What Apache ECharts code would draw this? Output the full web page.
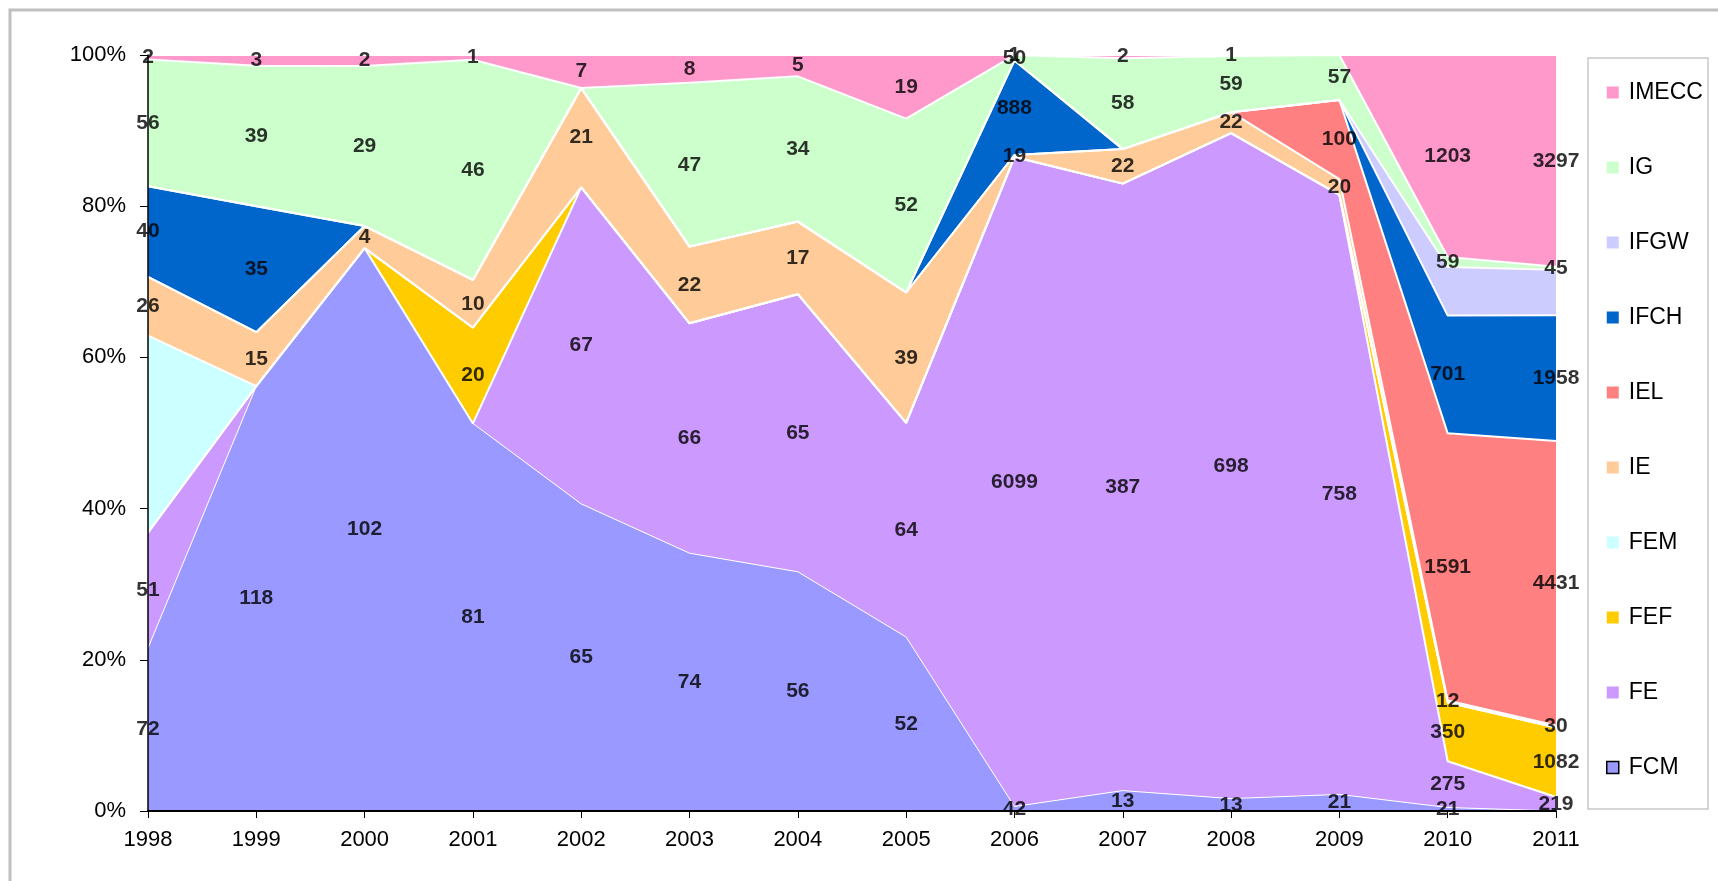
<!DOCTYPE html>
<html>
<head>
<meta charset="utf-8">
<script src="https://cdn.jsdelivr.net/npm/echarts@6/dist/echarts.min.js"></script>
<style>
  html, body { margin: 0; padding: 0; background: #fff; }
  #chart { width: 1718px; height: 881px; }
</style>
</head>
<body>
<div id="chart"></div>
<script>
// raw counts per year (blank cells in the sheet are 0 here)
const years = ['1998', '1999', '2000', '2001', '2002', '2003', '2004', '2005', '2006', '2007', '2008', '2009', '2010', '2011'];
const FCM = [72, 118, 102, 81, 65, 74, 56, 52, 42, 13, 13, 21, 21, 0];
const FE = [51, 0, 0, 0, 67, 66, 65, 64, 6099, 387, 698, 758, 275, 219];
const FEF = [0, 0, 0, 20, 0, 0, 0, 0, 0, 0, 0, 0, 350, 1082];
const FEM = [87, 0, 0, 0, 0, 0, 0, 0, 0, 0, 0, 0, 0, 0];
const IE = [26, 15, 4, 10, 21, 22, 17, 39, 19, 22, 22, 20, 12, 30];
const IEL = [0, 0, 0, 0, 0, 0, 0, 0, 0, 0, 0, 100, 1591, 4431];
const IFCH = [40, 35, 0, 0, 0, 0, 0, 0, 888, 0, 0, 0, 701, 1958];
const IFGW = [0, 0, 0, 0, 0, 0, 0, 0, 0, 0, 0, 0, 290, 708];
const IG = [56, 39, 29, 46, 0, 47, 34, 52, 50, 58, 59, 57, 59, 45];
const IMECC = [2, 3, 2, 1, 7, 8, 5, 19, 1, 2, 1, 0, 1203, 3297];

const yTicks = [0, 20, 40, 60, 80, 100];

// bottom to top
const stackOrder = [
    { name: 'FCM', data: FCM, color: '#9999FF', labels: true },
    { name: 'FE', data: FE, color: '#CC99FF', labels: true },
    { name: 'FEF', data: FEF, color: '#FFCC00', labels: true },
    { name: 'FEM', data: FEM, color: '#CCFFFF', labels: false },
    { name: 'IE', data: IE, color: '#FFCC99', labels: true },
    { name: 'IEL', data: IEL, color: '#FF8080', labels: true },
    { name: 'IFCH', data: IFCH, color: '#0066CC', labels: true },
    { name: 'IFGW', data: IFGW, color: '#CCCCFF', labels: false },
    { name: 'IG', data: IG, color: '#CCFFCC', labels: true },
    { name: 'IMECC', data: IMECC, color: '#FF99CC', labels: true }
];

const FONT = '"Liberation Sans", Arial, sans-serif';

const totals = years.map((y, i) => stackOrder.reduce((s, d) => s + d.data[i], 0));

let series = [];
let below = years.map(() => 0);

stackOrder.forEach(s => {
    let pct = s.data.map((v, i) => v / totals[i] * 100);
    series.push({
        name: s.name,
        type: 'line',
        stack: 'total',
        symbol: 'none',
        smooth: false,
        itemStyle: { color: s.color },
        lineStyle: { color: '#fff', width: s.name === 'FCM' ? 1 : 2 },
        areaStyle: { color: s.color, opacity: 1 },
        emphasis: { disabled: true },
        z: 2,
        data: pct
    });
    if (s.labels) {
        let pts = [];
        s.data.forEach((v, i) => {
            if (v > 0) pts.push([years[i], below[i] + pct[i] / 2, v]);
        });
        series.push({
            name: s.name + '_lbl',
            type: 'scatter',
            symbolSize: 0,
            silent: true,
            z: 10,
            label: {
                show: true,
                position: 'inside',
                color: '#000',
                textBorderWidth: 0,
                fontFamily: FONT,
                fontWeight: 'bold',
                fontSize: 21,
                formatter: p => p.data[2]
            },
            data: pts
        });
    }
    below = below.map((b, i) => b + pct[i]);
});

const option = {
    animation: false,
    backgroundColor: '#fff',
    grid: { left: 148, right: 162, top: 55, bottom: 70 },
    legend: {
        orient: 'vertical',
        left: 1606,
        top: 80,
        padding: 0,
        itemGap: 50,
        itemWidth: 12,
        itemHeight: 12,
        icon: 'rect',
        selectedMode: false,
        itemStyle: { borderWidth: 0 },
        textStyle: { fontFamily: FONT, fontSize: 23, lineHeight: 25, color: '#000', padding: [0, 0, 0, 5] },
        data: ['IMECC', 'IG', 'IFGW', 'IFCH', 'IEL', 'IE', 'FEM', 'FEF', 'FE',
            { name: 'FCM', itemStyle: { borderColor: '#000', borderWidth: 1.5 } }]
    },
    graphic: [
        {
            type: 'rect', z: -10, silent: true,
            shape: { x: 10, y: 10, width: 1800, height: 1000 },
            style: { fill: 'none', stroke: '#c0c0c0', lineWidth: 3 }
        },
        {
            type: 'rect', z: -5, silent: true,
            shape: { x: 1588, y: 58, width: 120, height: 751 },
            style: { fill: '#fff', stroke: '#c8c8c8', lineWidth: 1.5 }
        }
    ],
    xAxis: {
        type: 'category',
        boundaryGap: false,
        data: years,
        axisLine: { lineStyle: { color: '#000', width: 2 } },
        axisTick: { length: 7, lineStyle: { color: '#000', width: 1 } },
        axisLabel: { color: '#000', fontFamily: FONT, fontSize: 22, margin: 18 },
        splitLine: { show: false },
        z: 5
    },
    yAxis: {
        type: 'value',
        min: yTicks[0],
        max: yTicks[yTicks.length - 1],
        interval: 20,
        axisLine: { show: true, lineStyle: { color: '#000', width: 1.5 } },
        axisTick: { show: true, length: 8, lineStyle: { color: '#000', width: 1 } },
        axisLabel: { color: '#000', fontFamily: FONT, fontSize: 22, margin: 22, formatter: '{value}%' },
        splitLine: { show: false },
        z: 5
    },
    series: series
};

let myChart = echarts.init(document.getElementById('chart'));
myChart.setOption(option);
</script>
</body>
</html>
